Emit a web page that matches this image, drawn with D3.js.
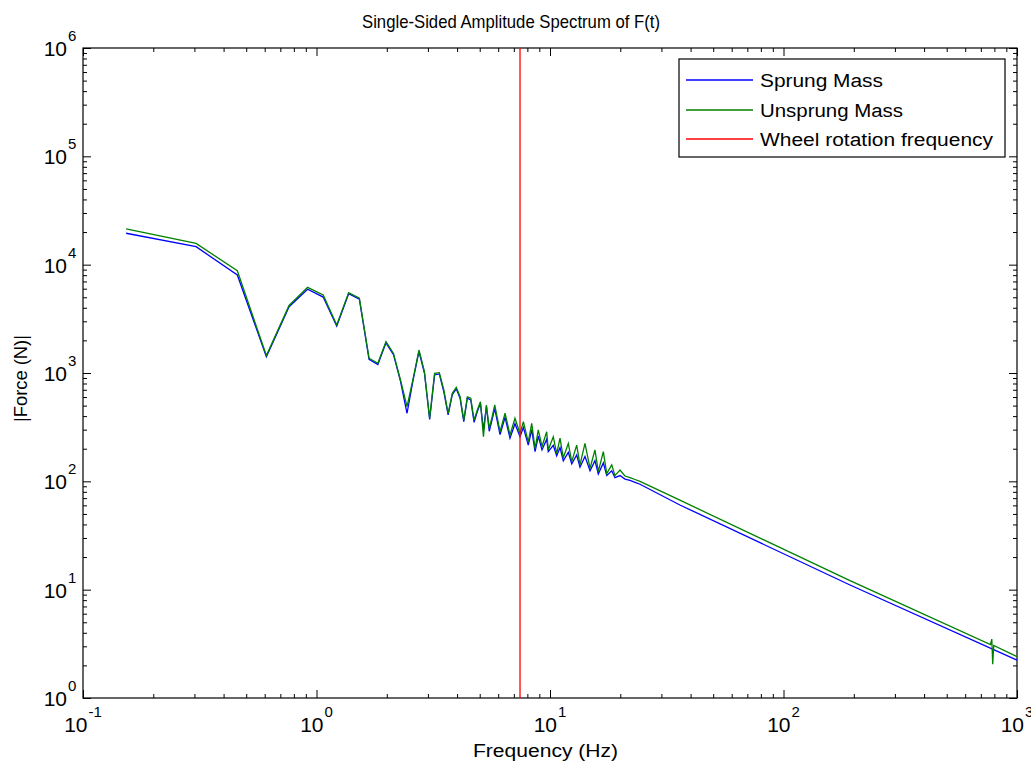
<!DOCTYPE html>
<html>
<head>
<meta charset="utf-8">
<script src="https://cdn.jsdelivr.net/npm/d3@7"></script>
<style>
  body { margin: 0; background: #fff; }
  text { font-family: "Liberation Sans", Arial, sans-serif; fill: #000; }
</style>
</head>
<body>
<div id="chart"></div>
<script>
// spectrum samples (Hz)
const freqHz = [0.153, 0.305, 0.458, 0.610, 0.763, 0.916, 1.068, 1.221, 1.373, 1.526,
  1.679, 1.831, 1.984, 2.136, 2.289, 2.442, 2.594, 2.747, 2.899, 3.052,
  3.204, 3.357, 3.510, 3.662, 3.815, 3.967, 4.120, 4.273, 4.425, 4.578,
  4.730, 4.883, 5.035, 5.188, 5.341, 5.493, 5.646, 5.798, 6.11, 6.42,
  6.74, 7.08, 7.44, 7.69, 8.07, 8.35, 8.63, 8.91, 9.24, 9.68,
  9.83, 10.33, 10.68, 11.04, 11.40, 11.98, 12.39, 13.01, 13.44, 14.12,
  14.84, 15.58, 16.10, 16.92, 17.50, 18.38, 18.98, 19.94, 20.95, 22.01,
  23.12, 24.29, 36.0, 192.7]

const sprungN = [19500, 14650, 8030, 1415, 4090, 5930, 5020, 2715, 5400, 4800,
  1340, 1200, 1900, 1480, 840, 425, 870, 1580, 1000, 372,
  960, 980, 670, 410, 630, 715, 585, 355, 585, 565,
  350, 440, 525, 298, 490, 290, 370, 470, 270, 390,
  250, 340, 258, 315, 216, 300, 188, 262, 195, 245,
  188, 215, 172, 205, 155, 185, 145, 175, 135, 170,
  125, 155, 117, 148, 113, 125, 108, 113, 105, 102,
  98, 94, 60.5, 11.04]

const unsprungN = [21400, 15700, 8800, 1450, 4200, 6180, 5250, 2780, 5520, 4900,
  1370, 1230, 1945, 1515, 862, 489, 894, 1630, 1030, 382,
  994, 1007, 697, 425, 649, 737, 603, 368, 603, 585,
  368, 455, 543, 258, 507, 309, 390, 507, 287, 425,
  268, 382, 275, 356, 230, 343, 200, 298, 210, 287,
  195, 258, 180, 250, 165, 224, 152, 216, 142, 224,
  132, 195, 123, 188, 118, 142, 113, 127, 112, 108,
  104, 100, 67, 12.1]

// high-frequency ends (green has a small glitch near 790 Hz)
const sprungTailHz = [1000]
const sprungTailN = [2.24]
const unsprungTailHz = [770, 780, 787, 795, 1000]
const unsprungTailN = [3.12, 3.5, 2.05, 3.05, 2.41]

const wheelHz = 7.44

const seriesNames = ['Sprung Mass', 'Unsprung Mass', 'Wheel rotation frequency']
const seriesColors = ['#0000ff', '#008000', '#ff0000']
const xDecades = [0.1, 1, 10, 100, 1000]
const xExp = ['-1', '0', '1', '2', '3']
const yDecades = [1, 10, 100, 1000, 1e4, 1e5, 1e6]
const yExp = ['0', '1', '2', '3', '4', '5', '6']

const W = 1031, H = 765
const padL = 83, padR = 1017, padT = 48, padB = 698

const svg = d3.select('#chart').append('svg')
  .attr('width', W).attr('height', H)

const x = d3.scaleLog().domain([0.1, 1000]).range([padL, padR])
const y = d3.scaleLog().domain([1, 1e6]).range([padB, padT])

// minor ticks 2..9 in each decade
let xMinor = [], yMinor = []
xDecades.slice(0, -1).forEach(d => { for (let m = 2; m <= 9; m++) xMinor.push(d * m) })
yDecades.slice(0, -1).forEach(d => { for (let m = 2; m <= 9; m++) yMinor.push(d * m) })

function tickAxis(axisFn, scale, vals, size, tr) {
  const g = svg.append('g').attr('transform', tr)
    .call(axisFn(scale).tickValues(vals).tickSize(size).tickFormat(''))
  g.select('.domain').remove()
  g.selectAll('.tick line').attr('stroke', '#000').attr('stroke-width', 1)
  return g
}
// inward ticks on all four sides
tickAxis(d3.axisBottom, x, xDecades, -8, `translate(0,${padB})`)
tickAxis(d3.axisBottom, x, xMinor, -4, `translate(0,${padB})`)
tickAxis(d3.axisTop, x, xDecades, -8, `translate(0,${padT})`)
tickAxis(d3.axisTop, x, xMinor, -4, `translate(0,${padT})`)
tickAxis(d3.axisLeft, y, yDecades, -8, `translate(${padL},0)`)
tickAxis(d3.axisLeft, y, yMinor, -4, `translate(${padL},0)`)
tickAxis(d3.axisRight, y, yDecades, -8, `translate(${padR},0)`)
tickAxis(d3.axisRight, y, yMinor, -4, `translate(${padR},0)`)

svg.append('rect')
  .attr('x', padL).attr('y', padT)
  .attr('width', padR - padL).attr('height', padB - padT)
  .attr('fill', 'none').attr('stroke', '#000').attr('stroke-width', 1.2)

// tick labels 10^n, one text element each
function powLabel(exp) {
  const t = svg.append('text')
  t.append('tspan').attr('font-size', 21).text('10')
  t.append('tspan').attr('font-size', 15).attr('dx', 1).attr('dy', -15).text(exp)
  return t
}
xDecades.forEach((d, i) => {
  powLabel(xExp[i]).attr('x', x(d)).attr('y', 732).attr('text-anchor', 'middle')
})
yDecades.forEach((d, i) => {
  const t = powLabel(yExp[i]).attr('y', y(d) + 8)
  const w = t.node().querySelector('tspan').getComputedTextLength()
  t.attr('x', 67 - w)
})

// lines
const line = d3.line().x(d => x(d[0])).y(d => y(d[1]))
const sprung = freqHz.map((f, i) => [f, sprungN[i]])
  .concat(sprungTailHz.map((f, i) => [f, sprungTailN[i]]))
const unsprung = freqHz.map((f, i) => [f, unsprungN[i]])
  .concat(unsprungTailHz.map((f, i) => [f, unsprungTailN[i]]))

svg.append('path').datum(sprung).attr('d', line)
  .attr('fill', 'none').attr('stroke', seriesColors[0]).attr('stroke-width', 1.3)
svg.append('path').datum(unsprung).attr('d', line)
  .attr('fill', 'none').attr('stroke', seriesColors[1]).attr('stroke-width', 1.3)
svg.append('line')
  .attr('x1', x(wheelHz)).attr('x2', x(wheelHz))
  .attr('y1', y(1e6)).attr('y2', y(1))
  .attr('stroke', seriesColors[2]).attr('stroke-width', 1.3)

// titles
svg.append('text').attr('x', 362).attr('y', 28).attr('font-size', 19)
  .attr('textLength', 298).attr('lengthAdjust', 'spacingAndGlyphs')
  .text('Single-Sided Amplitude Spectrum of F(t)')
svg.append('text').attr('x', 473).attr('y', 757).attr('font-size', 18)
  .attr('textLength', 145).attr('lengthAdjust', 'spacingAndGlyphs')
  .text('Frequency (Hz)')
svg.append('text').attr('transform', 'translate(27,422) rotate(-90)')
  .attr('font-size', 18)
  .attr('textLength', 87).attr('lengthAdjust', 'spacingAndGlyphs')
  .text('|Force (N)|')

// legend
const lg = svg.append('g')
lg.append('rect').attr('x', 679).attr('y', 59).attr('width', 326).attr('height', 98)
  .attr('fill', '#fff').attr('stroke', '#000').attr('stroke-width', 1.2)
const rowY = [80, 110, 139]
const textW = [123, 143, 233]
seriesNames.forEach((n, i) => {
  lg.append('line').attr('x1', 686).attr('x2', 753)
    .attr('y1', rowY[i]).attr('y2', rowY[i])
    .attr('stroke', seriesColors[i]).attr('stroke-width', 1.3)
  lg.append('text').attr('x', 760).attr('y', rowY[i] + 7).attr('font-size', 18)
    .attr('textLength', textW[i]).attr('lengthAdjust', 'spacingAndGlyphs')
    .text(n)
})
</script>
</body>
</html>
